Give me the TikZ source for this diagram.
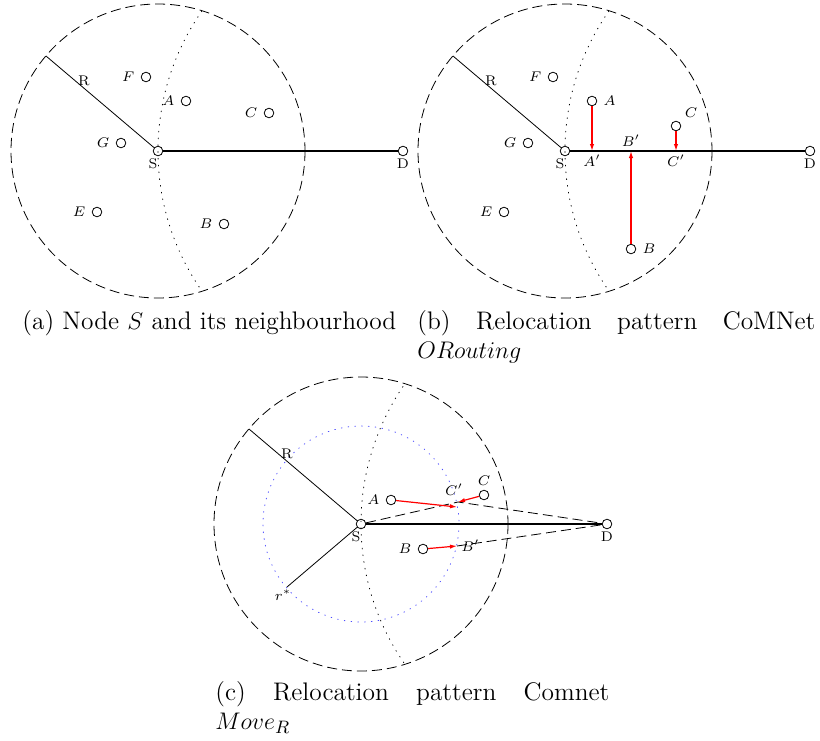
\documentclass[tikz,border=0pt]{standalone}
\usetikzlibrary{arrows.meta}

\tikzset{
  mobile/.style={circle,draw,inner sep=0pt,minimum size=4.8pt},
  nodelab/.style={font=\scriptsize,inner sep=1pt},
  rangeline/.style={dash pattern=on 5pt off 2.5pt},
  frontline/.style={dash pattern=on 0.4pt off 3pt,line cap=round},
  relocate/.style={red,semithick,-{Latex[length=3.5pt,width=2.2pt]}},
  subcap/.style={anchor=north west,text width=199pt,align=justify,inner sep=0pt,
    font=\fontsize{12.7pt}{14.5pt}\selectfont}
}

\begin{document}
\begin{tikzpicture}[x=0.5pt,y=-0.5pt,label distance=2pt]
\useasboundingbox (0,0) rectangle (820,740);

% (a) Node S and its neighbourhood
\draw[rangeline] (158,151) circle (147);
\begin{scope}
\clip (158,151) circle (147);
\draw[frontline] (403,151) circle (245);
\end{scope}
\node[mobile,label={[nodelab,xshift=-2.5pt,yshift=2pt]below:S}] (Sa) at (158,151) {};
\node[mobile,label={[nodelab,yshift=2pt]below:D}] (Da) at (403,151) {};
\coordinate (Ra) at (46,56);
\draw[semithick] (Sa) -- (Da);
\draw (Sa) -- (Ra) node[nodelab,pos=0.65,above] {R};
\node[mobile,label={[nodelab]left:$F$}] (Fa) at (146,77) {};
\node[mobile,label={[nodelab]left:$A$}] (Aa) at (186,101) {};
\node[mobile,label={[nodelab]left:$C$}] (Ca) at (269,113) {};
\node[mobile,label={[nodelab]left:$G$}] (Ga) at (121,143) {};
\node[mobile,label={[nodelab]left:$E$}] (Ea) at (97,212) {};
\node[mobile,label={[nodelab]left:$B$}] (Ba) at (224,224) {};

\node[subcap] (capa) at (22,310) {(a) Node $S$ and its neighbourhood};

% (b) Relocation pattern CoMNet ORouting
\draw[rangeline] (565,151) circle (147);
\begin{scope}
\clip (565,151) circle (147);
\draw[frontline] (810,151) circle (245);
\end{scope}
\node[mobile,label={[nodelab,xshift=-2.5pt,yshift=2pt]below:S}] (Sb) at (565,151) {};
\node[mobile,label={[nodelab,yshift=2pt]below:D}] (Db) at (810,151) {};
\coordinate (Rb) at (453,56);
\draw[semithick] (Sb) -- (Db);
\draw (Sb) -- (Rb) node[nodelab,pos=0.65,above] {R};
\node[mobile,label={[nodelab]left:$F$}] (Fb) at (553,77) {};
\node[mobile,label={[nodelab]left:$G$}] (Gb) at (528,143) {};
\node[mobile,label={[nodelab]left:$E$}] (Eb) at (504,212) {};
\node[mobile,label={[nodelab]right:$A$}] (Ab) at (592,101) {};
\node[mobile,label={[nodelab]above right:$C$}] (Cb) at (676,126) {};
\node[mobile,label={[nodelab]right:$B$}] (Bb) at (631,249) {};
\coordinate[label={[nodelab,yshift=1pt]below:$A'$}] (Apb) at (592,151);
\coordinate[label={[nodelab,yshift=-1pt]above:$B'$}] (Bpb) at (631,151);
\coordinate[label={[nodelab,yshift=1pt]below:$C'$}] (Cpb) at (676,151);
\draw[relocate] (Ab) -- (Apb);
\draw[relocate] (Cb) -- (Cpb);
\draw[relocate] (Bb) -- (Bpb);

\node[subcap] (capb) at (417,310) {(b) Relocation pattern CoMNet $ORouting$};

% (c) Relocation pattern Comnet Move_R
\draw[rangeline] (361,524) circle (147);
\begin{scope}
\clip (361,524) circle (147);
\draw[frontline] (607,524) circle (246);
\end{scope}
\draw[frontline,blue!70] (361,524) circle (98);
\node[mobile,label={[nodelab,xshift=-2.5pt,yshift=2pt]below:S}] (Sc) at (361,524) {};
\node[mobile,label={[nodelab,yshift=2pt]below:D}] (Dc) at (607,524) {};
\coordinate (Rc) at (249,429);
\coordinate[label={[nodelab,xshift=-2pt,yshift=2pt]below:$r^*$}] (rc) at (287,587);
\draw[semithick] (Sc) -- (Dc);
\draw (Sc) -- (Rc) node[nodelab,pos=0.65,above] {R};
\draw (Sc) -- (rc);
\node[mobile,label={[nodelab]left:$A$}] (Ac) at (391,500) {};
\node[mobile,label={[nodelab,label distance=1pt]above:$C$}] (Cc) at (484,495) {};
\node[mobile,label={[nodelab]left:$B$}] (Bc) at (423,549) {};
\coordinate (Apc) at (457,507);
\coordinate[label={[nodelab,xshift=-2pt]above:$C'$}] (Cpc) at (458,502);
\coordinate[label={[nodelab,xshift=-1pt]right:$B'$}] (Bpc) at (457,546);
\draw[rangeline] (Sc) -- (Cpc) -- (Dc);
\draw[rangeline] (Bpc) -- (Dc);
\draw[relocate] (Ac) -- (Apc);
\draw[relocate] (Cc) -- (Cpc);
\draw[relocate] (Bc) -- (Bpc);

\node[subcap,text width=197pt] (capc) at (215,681) {(c) Relocation pattern Comnet $Move_R$};

\end{tikzpicture}
\end{document}
